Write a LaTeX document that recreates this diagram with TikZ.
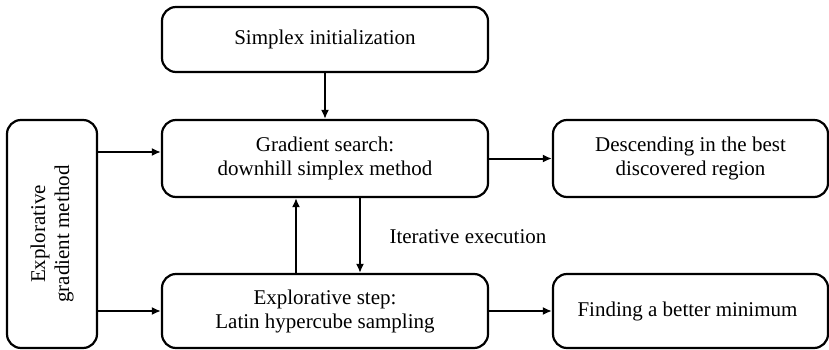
\documentclass[tikz,border=0pt]{standalone}
\usepackage{fontspec}
\setmainfont{Liberation Serif}
\usetikzlibrary{arrows.meta}
\begin{document}
\begin{tikzpicture}[x=1pt, y=-1pt]
    % Define styles
    \tikzset{
        stepbox/.style={draw, line width=2.2pt, rounded corners=14pt, align=center,
            font=\fontsize{21}{24}\selectfont, inner sep=0pt},
        midbox/.style={stepbox, minimum width=326pt},
        outbox/.style={stepbox, minimum width=275pt},
        flow/.style={line width=2pt, -{Latex[length=9pt,width=8pt]}},
        labeltext/.style={font=\fontsize{21}{24}\selectfont}
    }
    \useasboundingbox (0,0) rectangle (829,350);

    % Main column
    \node[midbox, minimum height=65pt] (init) at (325,39.5) {Simplex initialization};
    \node[midbox, minimum height=77pt] (search) at (325,158.5) {Gradient search:\\downhill simplex method};
    \node[midbox, minimum height=74pt] (explore) at (325,311) {Explorative step:\\Latin hypercube sampling};

    % Left frame
    \node[stepbox, minimum width=90pt, minimum height=228pt] (egm) at (52,234) {};
    \node[labeltext, rotate=90, align=center] (egmtext) at (egm) {Explorative\\gradient method};

    % Outcomes
    \node[outbox, minimum height=77pt] (best) at (690.5,158.5) {Descending in the best\\discovered region};
    \node[outbox, minimum height=74pt] (better) at (690.5,311) {\hspace*{-6pt}Finding a better minimum};

    % Connectors
    \draw[flow] (init) -- (search);
    \draw[flow] (egm.east |- 0,152) -- (search.west |- 0,152);
    \draw[flow] (egm.east |- explore) -- (explore.west);
    \draw[flow] (search) -- (best);
    \draw[flow] (explore) -- (better);
    \draw[flow] (explore.north -| 296,0) -- (search.south -| 296,0);
    \draw[flow] (search.south -| 360,0) -- (explore.north -| 360,0);

    % Loop label
    \node[labeltext, anchor=west] (iter) at (386,237) {Iterative execution};
\end{tikzpicture}
\end{document}
